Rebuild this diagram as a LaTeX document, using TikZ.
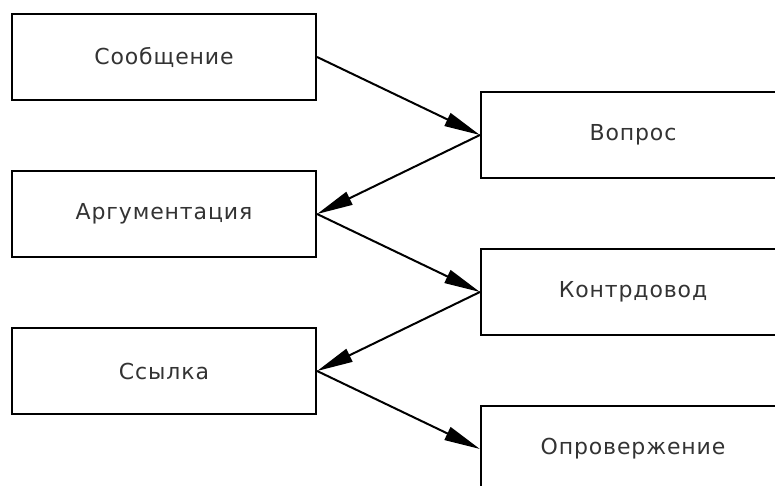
\documentclass[tikz,border=0pt]{standalone}
\usepackage{fontspec}
\setmainfont{DejaVu Sans}[LetterSpace=4]
\usetikzlibrary{arrows.meta}

\begin{document}
\begin{tikzpicture}[x=1pt, y=-1pt,
  box/.style={draw, line width=2.2pt, minimum width=304pt, minimum height=86pt,
    inner sep=0pt, font=\fontsize{22}{26}\selectfont, text=black!80},
  link/.style={line width=2pt, -{Triangle[length=36pt, width=14pt]}}]
  \useasboundingbox (0,0) rectangle (775,485);
  \clip (0,0) rectangle (775,485);

  % left column
  \node[box] (msg) at (164,57)  {Сообщение};
  \node[box] (arg) at (164,214) {Аргументация};
  \node[box] (ref) at (164,371) {Ссылка};

  % right column
  \node[box] (q)   at (633,135) {Вопрос};
  \node[box] (ctr) at (633,292) {Контрдовод};
  \node[box] (reb) at (633,449) {Опровержение};

  % zig-zag chain of connectors
  \draw[link] (msg.east) -- (q.west);
  \draw[link] (q.west)   -- (arg.east);
  \draw[link] (arg.east) -- (ctr.west);
  \draw[link] (ctr.west) -- (ref.east);
  \draw[link] (ref.east) -- (reb.west);
\end{tikzpicture}
\end{document}
